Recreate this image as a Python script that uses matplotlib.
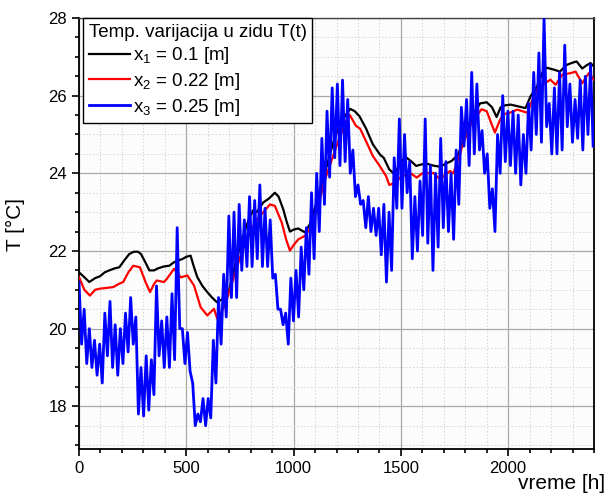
import numpy as np
import matplotlib
matplotlib.use("Agg")
import matplotlib.pyplot as plt
from matplotlib.ticker import MultipleLocator

plt.rcParams['font.family'] = ['Liberation Sans', 'DejaVu Sans']

# ---- data ----
black_x = [0, 20, 48, 75, 98, 120, 141, 165, 188, 210, 234, 255, 275, 289, 310, 328, 350, 367, 395, 421,
           440, 458, 481, 500, 520, 535, 551, 575, 598, 620, 643, 665, 684, 700, 730, 760, 790, 812, 828, 859,
           885, 913, 930, 952, 968, 983, 1000, 1022, 1040, 1053, 1077, 1110, 1150, 1190, 1230, 1263, 1285, 1307,
           1338, 1369, 1403, 1420, 1446, 1470, 1490, 1510, 1527, 1550, 1571, 1597, 1620, 1650, 1682, 1710, 1737,
           1768, 1800, 1835, 1869, 1900, 1925, 1946, 1965, 1985, 2011, 2042, 2081, 2104, 2135, 2160, 2179, 2213,
           2241, 2272, 2300, 2319, 2345, 2365, 2384, 2400]
black_y = [21.45, 21.35, 21.2, 21.3, 21.35, 21.45, 21.5, 21.55, 21.58, 21.75, 21.92, 21.98, 21.98, 21.92, 21.7,
           21.5, 21.5, 21.55, 21.6, 21.62, 21.7, 21.75, 21.79, 21.85, 21.88, 21.6, 21.33, 21.1, 20.94, 20.8, 20.68,
           20.75, 20.85, 21.0, 21.7, 22.3, 22.8, 23.05, 23.0, 23.25, 23.35, 23.5, 23.4, 23.07, 22.75, 22.5, 22.55,
           22.58, 22.52, 22.48, 22.7, 23.3, 24.1, 24.9, 25.4, 25.66, 25.6, 25.47, 25.15, 24.75, 24.48, 24.4, 24.1,
           23.98, 24.2, 24.35, 24.4, 24.3, 24.19, 24.23, 24.25, 24.2, 24.17, 24.25, 24.32, 24.49, 25.0, 25.5, 25.8,
           25.83, 25.7, 25.45, 25.7, 25.75, 25.77, 25.73, 25.68, 25.98, 26.24, 26.6, 26.72, 26.67, 26.62, 26.79,
           26.85, 26.88, 26.7, 26.78, 26.84, 26.75]

red_x = [0, 25, 51, 75, 98, 130, 160, 185, 206, 230, 253, 284, 310, 331, 350, 362, 396, 409, 443, 474, 505,
         536, 567, 598, 629, 644, 660, 680, 720, 760, 800, 828, 859, 890, 913, 945, 965, 983, 1000, 1022, 1053,
         1080, 1110, 1150, 1200, 1240, 1262, 1291, 1310, 1340, 1369, 1400, 1431, 1446, 1470, 1500, 1543, 1574,
         1600, 1651, 1682, 1729, 1744, 1765, 1791, 1830, 1876, 1900, 1938, 1960, 1977, 2008, 2042, 2089, 2110,
         2135, 2165, 2197, 2221, 2252, 2291, 2314, 2345, 2376, 2400]
red_y = [21.33, 21.0, 20.85, 21.0, 21.03, 21.05, 21.07, 21.15, 21.2, 21.45, 21.62, 21.58, 21.2, 20.94, 21.15,
         21.24, 21.2, 21.28, 21.54, 21.32, 21.37, 21.11, 20.55, 20.34, 20.51, 20.26, 20.4, 20.6, 21.3, 22.0, 22.5,
         22.8, 23.0, 23.2, 23.16, 22.73, 22.3, 22.01, 22.15, 22.3, 22.39, 22.6, 23.1, 23.9, 24.7, 25.3, 25.5,
         25.22, 25.15, 24.8, 24.45, 24.2, 23.93, 23.7, 23.75, 23.9, 24.01, 23.89, 24.0, 24.01, 23.85, 24.06, 24.0,
         24.3, 24.79, 25.3, 25.65, 25.6, 25.05, 25.35, 25.52, 25.56, 25.64, 25.56, 25.85, 26.15, 26.3, 26.41,
         26.28, 26.54, 26.58, 26.62, 26.32, 26.58, 26.41]

# blue: daily high / low pairs (one pair per 24 h)
blue_hi = [21.2, 20.5, 20.0, 19.7, 19.6, 20.4, 20.7, 20.1, 20.0, 20.4,
           20.8, 20.3, 19.0, 19.3, 19.2, 21.1, 20.2, 20.3, 20.9, 22.6,
           20.0, 19.9, 18.6, 17.8, 18.2, 18.2, 19.7, 20.8, 21.4, 22.9,
           23.0, 23.2, 22.8, 23.4, 23.3, 23.7, 23.1, 22.8, 21.4, 20.5,
           20.4, 21.3, 21.5, 22.1, 22.6, 23.5, 24.0, 24.9, 25.6, 26.2,
           26.3, 26.4, 25.9, 24.6, 23.7, 23.3, 23.4, 23.1, 23.1, 23.2,
           23.0, 24.4, 25.4, 25.0, 24.3, 23.4, 23.8, 25.4, 24.2, 24.0,
           24.9, 24.3, 24.0, 24.6, 25.7, 25.9, 26.6, 26.3, 25.1, 24.5,
           23.6, 25.0, 26.0, 25.6, 25.6, 25.5, 25.0, 25.8, 26.6, 27.1,
           28.0, 25.8, 26.2, 26.6, 27.3, 26.3, 25.9, 26.4, 26.5, 26.8]
blue_lo = [19.6, 19.1, 19.0, 18.8, 18.6, 19.3, 19.0, 18.8, 19.1, 19.4,
           19.6, 17.8, 17.75, 17.9, 18.3, 19.3, 19.0, 19.0, 19.2, 20.0,
           19.1, 18.9, 17.5, 17.6, 17.5, 17.7, 18.6, 19.6, 20.3, 20.8,
           20.8, 21.5, 21.6, 21.6, 21.8, 21.6, 21.6, 21.3, 20.5, 20.1,
           19.6, 20.2, 20.3, 21.0, 21.4, 21.8, 22.5, 23.2, 23.9, 24.4,
           24.2, 24.3, 24.0, 23.4, 23.2, 22.6, 22.5, 22.4, 21.9, 21.2,
           21.5, 23.1, 23.1, 23.5, 21.8, 22.0, 22.4, 22.2, 21.5, 22.1,
           22.6, 22.5, 22.3, 23.2, 24.7, 24.2, 24.5, 24.6, 24.0, 23.1,
           22.5, 24.0, 24.3, 24.2, 24.0, 23.7, 24.0, 24.6, 25.0, 24.8,
           25.2, 24.5, 24.5, 24.6, 25.2, 24.8, 24.9, 24.6, 25.0, 24.7]

labels = [r'x$_\mathregular{1}$ = 0.1 [m]', r'x$_\mathregular{2}$ = 0.22 [m]', r'x$_\mathregular{3}$ = 0.25 [m]']
legend_title = 'Temp. varijacija u zidu T(t)'

blue_y = np.ravel(np.column_stack([blue_hi, blue_lo]))
blue_x = np.linspace(0, 2396, len(blue_y))

fig = plt.figure(figsize=(6.10, 4.99), dpi=100)
ax = fig.add_axes([79/610, 1-449/499, 515/610, 431/499])
ax.set_facecolor('#fcfcfc')

ax.plot(black_x, black_y, color='black', lw=1.6, label=labels[0], zorder=3)
ax.plot(red_x, red_y, color='#ff0000', lw=1.6, label=labels[1], zorder=3)
ax.plot(blue_x, blue_y, color='#0000ff', lw=2.0, label=labels[2], zorder=4)

ax.set_xlim(0, 2400)
ax.set_ylim(16.9, 28)
ax.xaxis.set_major_locator(MultipleLocator(500))
ax.xaxis.set_minor_locator(MultipleLocator(100))
ax.yaxis.set_major_locator(MultipleLocator(2))
ax.yaxis.set_minor_locator(MultipleLocator(0.5))
ax.tick_params(which='both', direction='out', top=False, right=False, labelsize=12, width=1.2)
ax.tick_params(which='major', length=5)
ax.tick_params(which='minor', length=3)
ax.grid(which='major', color='#a8a8a8', lw=0.9, ls='-', zorder=0)
ax.grid(which='minor', color='#d4d4d4', lw=0.7, ls=(0, (1.5, 2)), zorder=0)
ax.set_axisbelow(True)
for s in ['left', 'bottom', 'right']:
    ax.spines[s].set_linewidth(1.3)
ax.spines['top'].set_linewidth(1.0)
ax.spines['top'].set_color('#444444')

ax.set_ylabel('T [°C]', fontsize=15)
ax.yaxis.set_label_coords(-0.105, 0.52)
fig.text(0.992, 0.012, 'vreme [h]', ha='right', va='bottom', fontsize=15)

leg = ax.legend(loc='upper left', bbox_to_anchor=(0.008, 1.0), borderaxespad=0, title=legend_title,
                fontsize=13.5, title_fontsize=13.5, fancybox=False, framealpha=1, edgecolor='black',
                handlelength=2.2, handletextpad=0.15, labelspacing=0.25, borderpad=0.3,
                alignment='left')
leg.get_frame().set_linewidth(1.0)
leg.set_zorder(10)

fig.savefig('out.png', dpi=100)
